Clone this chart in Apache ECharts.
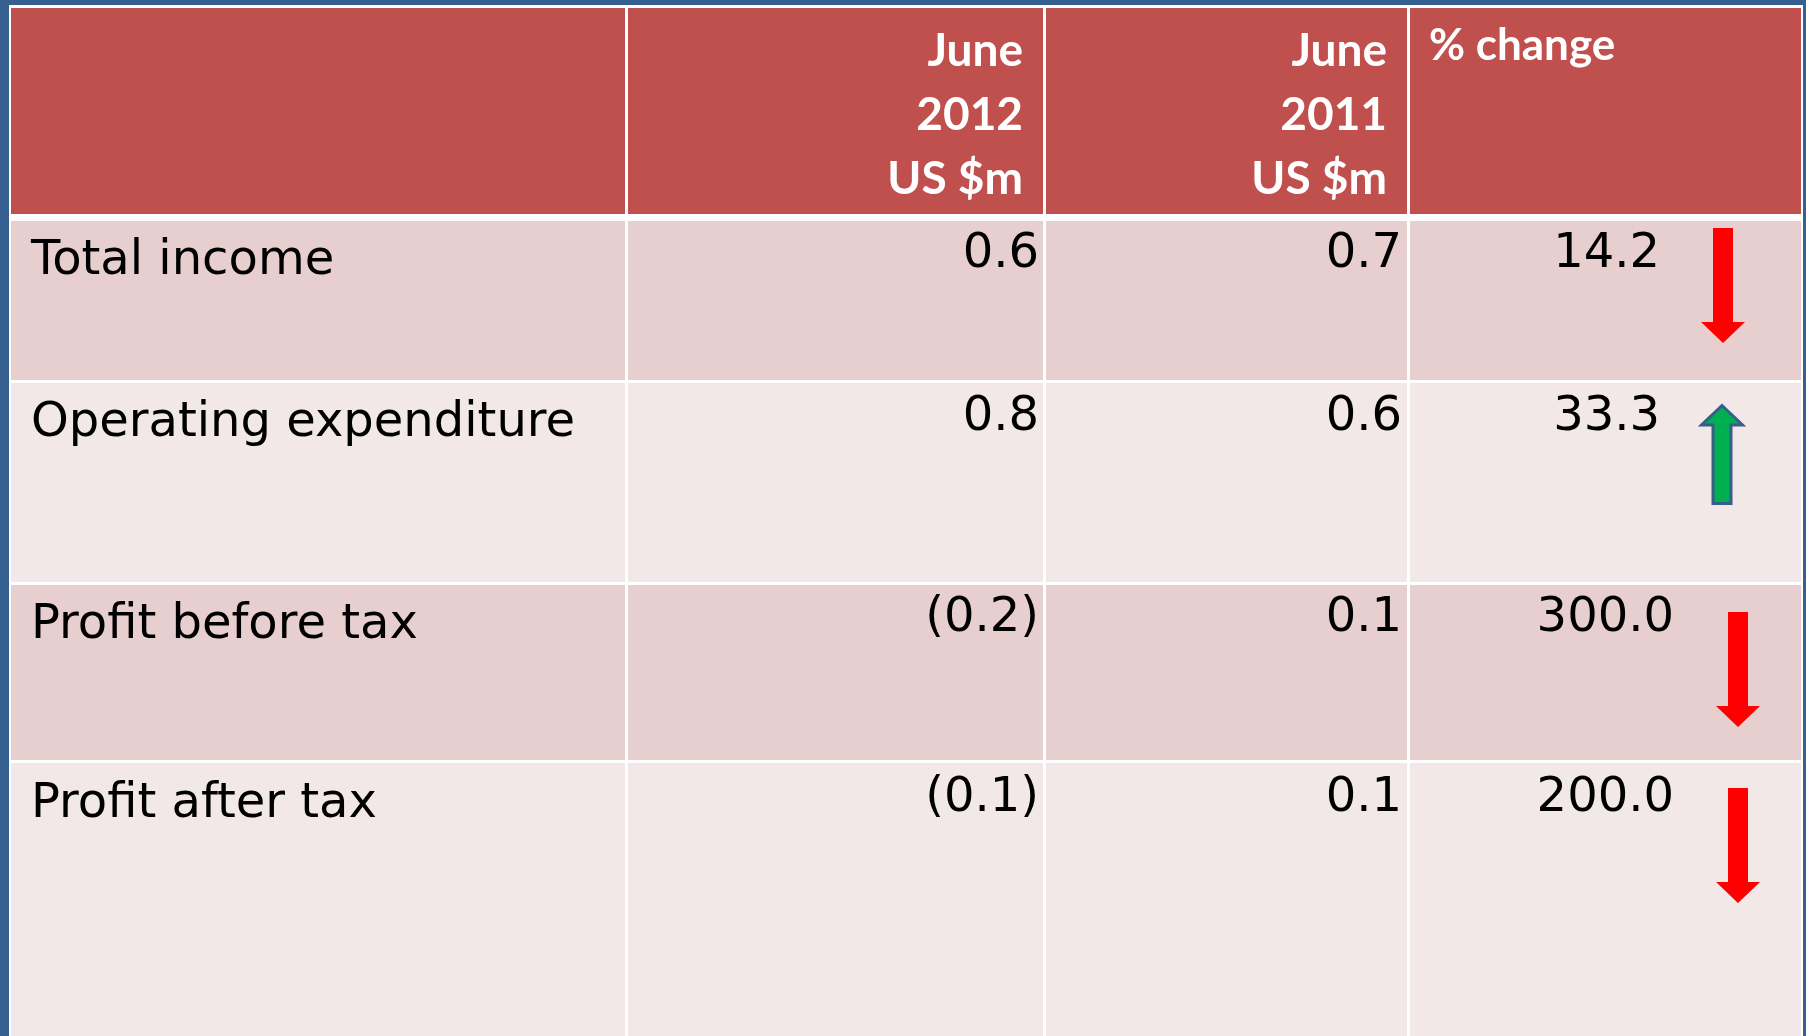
<!DOCTYPE html>
<html>
<head>
<meta charset="utf-8">
<script src="https://cdn.jsdelivr.net/npm/echarts@6/dist/echarts.min.js"></script>
<style>
html,body{margin:0;padding:0;background:#35608f;}
#main{width:1806px;height:1036px;}
</style>
</head>
<body>
<div id="main"></div>
<script>
// table data
var headers = ['', 'June\n2012\nUS $m', 'June\n2011\nUS $m', '% change'];
var items = ['Total income', 'Operating expenditure', 'Profit before tax', 'Profit after tax'];
var june2012 = [0.6, 0.8, -0.2, -0.1];
var june2011 = [0.7, 0.6, 0.1, 0.1];
var pctChange = [14.2, 33.3, 300.0, 200.0];
var trend = ['down', 'up', 'down', 'down'];

// layout (pixels in a 1806x1036 frame)
var colEdges = [[11, 625], [628, 1043], [1046, 1407], [1410, 1801]];
var rowEdges = [[8, 214], [221, 380], [383, 582], [585, 760], [763, 1036]];
var labelMid = [262, 424, 626, 805];
var numMid = [255, 418, 619, 799];
var numRight = [1039, 1402];
var pctRight = [1660, 1660, 1674, 1674];
var arrowX = [1723, 1722, 1738, 1738];
var arrowSpan = [[228, 343], [404, 505], [612, 727], [788, 903]];

var bodyFont = 'DejaVu Sans';
var headFont = 'Lato';

function fmt(v) {
    return v < 0 ? '(' + Math.abs(v).toFixed(1) + ')' : v.toFixed(1);
}

var cells = [];
for (var r = 0; r < rowEdges.length; r++) {
    for (var c = 0; c < colEdges.length; c++) cells.push([c, r]);
}

var dom = document.getElementById('main');
var myChart = echarts.init(dom);

var option = {
    backgroundColor: '#35608f',
    animation: false,
    grid: {left: 0, right: 0, top: 0, bottom: 0},
    xAxis: {type: 'value', min: 0, max: 1806, show: false},
    yAxis: {type: 'value', min: 0, max: 1036, inverse: true, show: false},
    graphic: [{
        type: 'rect', z: -10,
        shape: {x: 9, y: 5, width: 1794, height: 1031},
        style: {fill: '#ffffff'}
    }],
    series: [
        {
            // cell backgrounds
            type: 'custom',
            data: cells,
            renderItem: function (params, api) {
                var c = api.value(0), r = api.value(1);
                var p0 = api.coord([colEdges[c][0], rowEdges[r][0]]);
                var p1 = api.coord([colEdges[c][1], rowEdges[r][1]]);
                var fill = r === 0 ? '#c0504d' : (r % 2 === 1 ? '#e7cfcf' : '#f2e8e8');
                return {
                    type: 'rect',
                    shape: {x: p0[0], y: p0[1], width: p1[0] - p0[0], height: p1[1] - p0[1]},
                    style: {fill: fill}
                };
            }
        },
        {
            // header text
            type: 'custom',
            data: headers.map(function (h, i) { return [i]; }),
            renderItem: function (params, api) {
                var i = params.dataIndex;
                if (!headers[i]) return null;
                if (i === 3) {
                    var pt = api.coord([colEdges[i][0] + 19, 46]);
                    return {
                        type: 'text', z2: 10,
                        style: {
                            text: headers[i], x: pt[0], y: pt[1],
                            align: 'left', verticalAlign: 'middle',
                            font: 'bold 44px ' + headFont, fill: '#ffffff'
                        }
                    };
                }
                var p = api.coord([colEdges[i][1] - 20, 19]);
                return {
                    type: 'text', z2: 10,
                    style: {
                        text: headers[i], x: p[0], y: p[1],
                        align: 'right', verticalAlign: 'top', lineHeight: 64,
                        font: 'bold 46px ' + headFont, fill: '#ffffff'
                    }
                };
            }
        },
        {
            // body text
            type: 'custom',
            data: items.map(function (n, i) { return [i]; }),
            renderItem: function (params, api) {
                var i = params.dataIndex;
                var font = '48px ' + bodyFont;
                function txt(s, x, y, align) {
                    var p = api.coord([x, y]);
                    return {
                        type: 'text',
                        style: {text: s, x: p[0], y: p[1], align: align, verticalAlign: 'middle', font: font, fill: '#000000'}
                    };
                }
                return {
                    type: 'group',
                    children: [
                        txt(items[i], 31, labelMid[i], 'left'),
                        txt(fmt(june2012[i]), numRight[0], numMid[i], 'right'),
                        txt(fmt(june2011[i]), numRight[1], numMid[i], 'right'),
                        txt(pctChange[i].toFixed(1), pctRight[i], numMid[i], 'right')
                    ]
                };
            }
        },
        {
            // trend arrows
            type: 'custom',
            data: trend.map(function (t, i) { return [i]; }),
            renderItem: function (params, api) {
                var i = params.dataIndex;
                var cx = arrowX[i], a = arrowSpan[i][0], b = arrowSpan[i][1];
                var sw = 10, hw = 22, hl = 21;
                var pts;
                if (trend[i] === 'down') {
                    pts = [[cx - sw, a], [cx + sw, a], [cx + sw, b - hl], [cx + hw, b - hl],
                           [cx, b], [cx - hw, b - hl], [cx - sw, b - hl]];
                } else {
                    sw = 9; hw = 20.5;
                    pts = [[cx, a + 1.5], [cx + hw, a + hl], [cx + sw, a + hl], [cx + sw, b - 1.5],
                           [cx - sw, b - 1.5], [cx - sw, a + hl], [cx - hw, a + hl]];
                }
                var coords = pts.map(function (q) { return api.coord(q); });
                return {
                    type: 'polygon', z2: 20,
                    shape: {points: coords},
                    style: trend[i] === 'down'
                        ? {fill: '#ff0000'}
                        : {fill: '#00b050', stroke: '#385d8a', lineWidth: 3, lineJoin: 'miter'}
                };
            }
        }
    ]
};

myChart.setOption(option, true);
</script>
</body>
</html>
